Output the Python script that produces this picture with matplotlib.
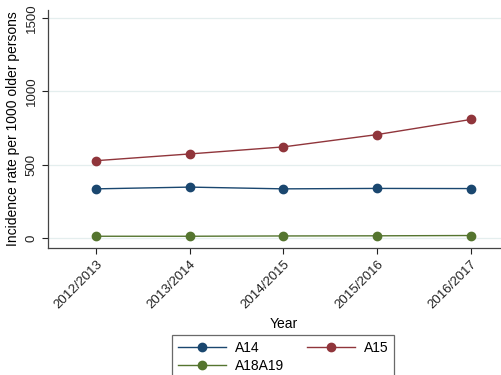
import numpy as np
import matplotlib
matplotlib.use('Agg')
import matplotlib.pyplot as plt

plt.rcParams['font.family'] = ['Liberation Sans', 'DejaVu Sans']

# Incidence rates per 1000 older persons, by financial year
years = ['2012/2013', '2013/2014', '2014/2015', '2015/2016', '2016/2017']
a14 = [335, 347, 335, 338, 337]
a15 = [527, 573, 621, 705, 808]
a18a19 = [12, 12, 14, 15, 17]

series = [('A14', a14, '#1a476f'),
          ('A15', a15, '#90353b'),
          ('A18A19', a18a19, '#55752f')]

fig = plt.figure(figsize=(5.02, 3.75), dpi=100)
ax = fig.add_axes([0.0956, 0.3387, 0.938, 0.635])

x = np.arange(len(years))
lines = {}
for name, vals, col in series:
    lines[name], = ax.plot(x, vals, color=col, lw=1.0, marker='o', markersize=6,
                           markeredgecolor=col, label=name, zorder=3)

ax.set_xlim(-0.512, 4.512)
ax.set_ylim(-68, 1555)
ax.set_yticks([0, 500, 1000, 1500])
ax.set_yticklabels(['0', '500', '1000', '1500'], rotation=90, va='center')
ax.set_xticks(x)
ax.set_xticklabels(years, rotation=45, ha='right', rotation_mode='anchor')
ax.tick_params(labelsize=9.5, colors='#222222', length=4, width=0.8)
ax.grid(axis='y', color='#e4eeee', lw=0.9, zorder=0)
ax.set_axisbelow(True)

for s in ['top', 'right']:
    ax.spines[s].set_visible(False)
for s in ['left', 'bottom']:
    ax.spines[s].set_color('#444444')
    ax.spines[s].set_linewidth(0.9)

ax.set_ylabel('Incidence rate per 1000 older persons', fontsize=10, labelpad=4)
ax.set_xlabel('Year', fontsize=10, labelpad=4)

# row-wise order: A14, A15 on the first row, A18A19 below
order = ['A14', 'A18A19', 'A15']
leg = fig.legend([lines[k] for k in order], order,
                 loc='upper left', bbox_to_anchor=(172 / 502, 1 - 335 / 375),
                 borderaxespad=0, ncol=2, fontsize=10, handlelength=3.5,
                 handletextpad=0.65, columnspacing=1.6, labelspacing=0.3,
                 fancybox=False, frameon=True, borderpad=0.4)
leg.get_frame().set_edgecolor('#444444')
leg.get_frame().set_linewidth(0.9)

fig.savefig('out.png', dpi=100)
